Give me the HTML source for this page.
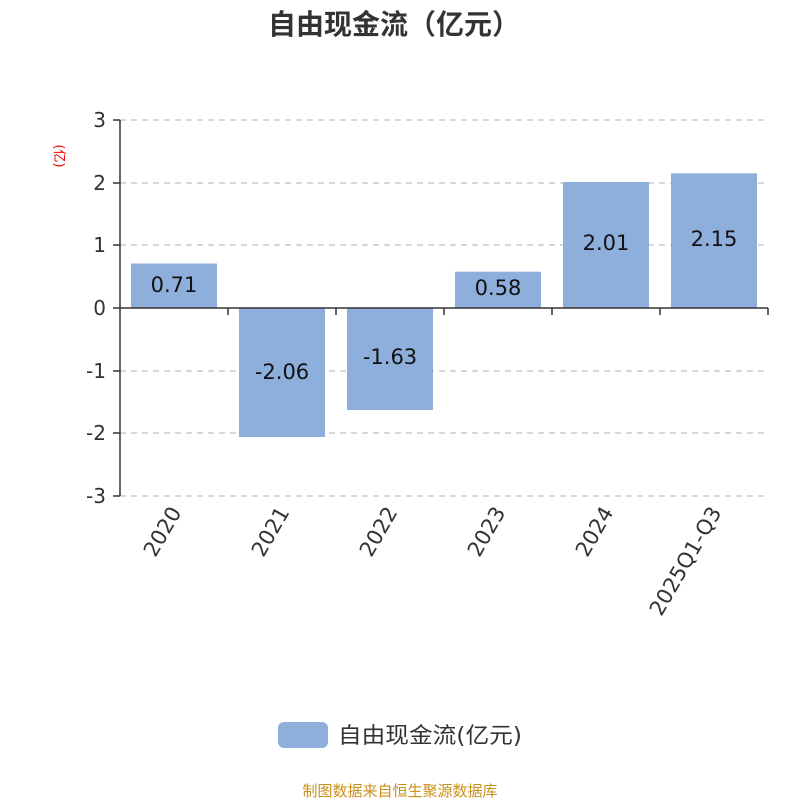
<!DOCTYPE html>
<html><head><meta charset="utf-8"><style>
html,body{margin:0;padding:0;background:#fff;}
svg text{font-family:"DejaVu Sans","Noto Sans CJK SC",sans-serif;}
</style></head><body>
<svg width="800" height="800" xmlns="http://www.w3.org/2000/svg">
<text x="394" y="34" text-anchor="middle" font-size="28" font-weight="bold" fill="#333" style="font-family:'Noto Sans CJK SC',sans-serif">自由现金流（亿元）</text>
<text transform="translate(55,156) rotate(90)" text-anchor="middle" font-size="13" fill="#e00">(亿)</text>
<g stroke="#ccc" stroke-width="1.5" stroke-dasharray="6,5">
<line x1="120" y1="120" x2="768" y2="120"/>
<line x1="120" y1="183" x2="768" y2="183"/>
<line x1="120" y1="245" x2="768" y2="245"/>
<line x1="120" y1="371" x2="768" y2="371"/>
<line x1="120" y1="433" x2="768" y2="433"/>
<line x1="120" y1="496" x2="768" y2="496"/>
</g>
<g fill="#8eafdb">
<rect x="131" y="263.5" width="86" height="44.5"/>
<rect x="239" y="308" width="86" height="129"/>
<rect x="347" y="308" width="86" height="102"/>
<rect x="455" y="271.7" width="86" height="36.3"/>
<rect x="563" y="182" width="86" height="126"/>
<rect x="671" y="173.3" width="86" height="134.7"/>
</g>
<g stroke="#333" stroke-width="1.5">
<line x1="120" y1="120" x2="120" y2="496"/>
<line x1="113" y1="120" x2="120" y2="120"/>
<line x1="113" y1="183" x2="120" y2="183"/>
<line x1="113" y1="245" x2="120" y2="245"/>
<line x1="113" y1="308" x2="120" y2="308"/>
<line x1="113" y1="371" x2="120" y2="371"/>
<line x1="113" y1="433" x2="120" y2="433"/>
<line x1="113" y1="496" x2="120" y2="496"/>
<line x1="120" y1="308" x2="768" y2="308"/>
<line x1="228" y1="308" x2="228" y2="315"/>
<line x1="336" y1="308" x2="336" y2="315"/>
<line x1="444" y1="308" x2="444" y2="315"/>
<line x1="552" y1="308" x2="552" y2="315"/>
<line x1="660" y1="308" x2="660" y2="315"/>
<line x1="768" y1="308" x2="768" y2="315"/>
</g>
<g font-size="20" fill="#333" text-anchor="end">
<text x="106" y="127">3</text>
<text x="106" y="190">2</text>
<text x="106" y="252">1</text>
<text x="106" y="315">0</text>
<text x="106" y="378">-1</text>
<text x="106" y="440">-2</text>
<text x="106" y="503">-3</text>
</g>
<g font-size="21" fill="#111" text-anchor="middle">
<text x="174" y="292">0.71</text>
<text x="282" y="379">-2.06</text>
<text x="390" y="364">-1.63</text>
<text x="498" y="295">0.58</text>
<text x="606" y="250">2.01</text>
<text x="714" y="246">2.15</text>
</g>
<g font-size="21" fill="#333" text-anchor="end">
<text transform="translate(182,512) rotate(-60)">2020</text>
<text transform="translate(290,512) rotate(-60)">2021</text>
<text transform="translate(398,512) rotate(-60)">2022</text>
<text transform="translate(506,512) rotate(-60)">2023</text>
<text transform="translate(614,512) rotate(-60)">2024</text>
<text transform="translate(722,512) rotate(-60)">2025Q1-Q3</text>
</g>
<rect x="278" y="722" width="50" height="26" rx="6" fill="#8eafdb"/>
<text x="338" y="743" font-size="22" fill="#333" textLength="184" lengthAdjust="spacingAndGlyphs">自由现金流(亿元)</text>
<text x="400" y="796" text-anchor="middle" font-size="15" fill="#c9901c">制图数据来自恒生聚源数据库</text>
</svg>
</body></html>
